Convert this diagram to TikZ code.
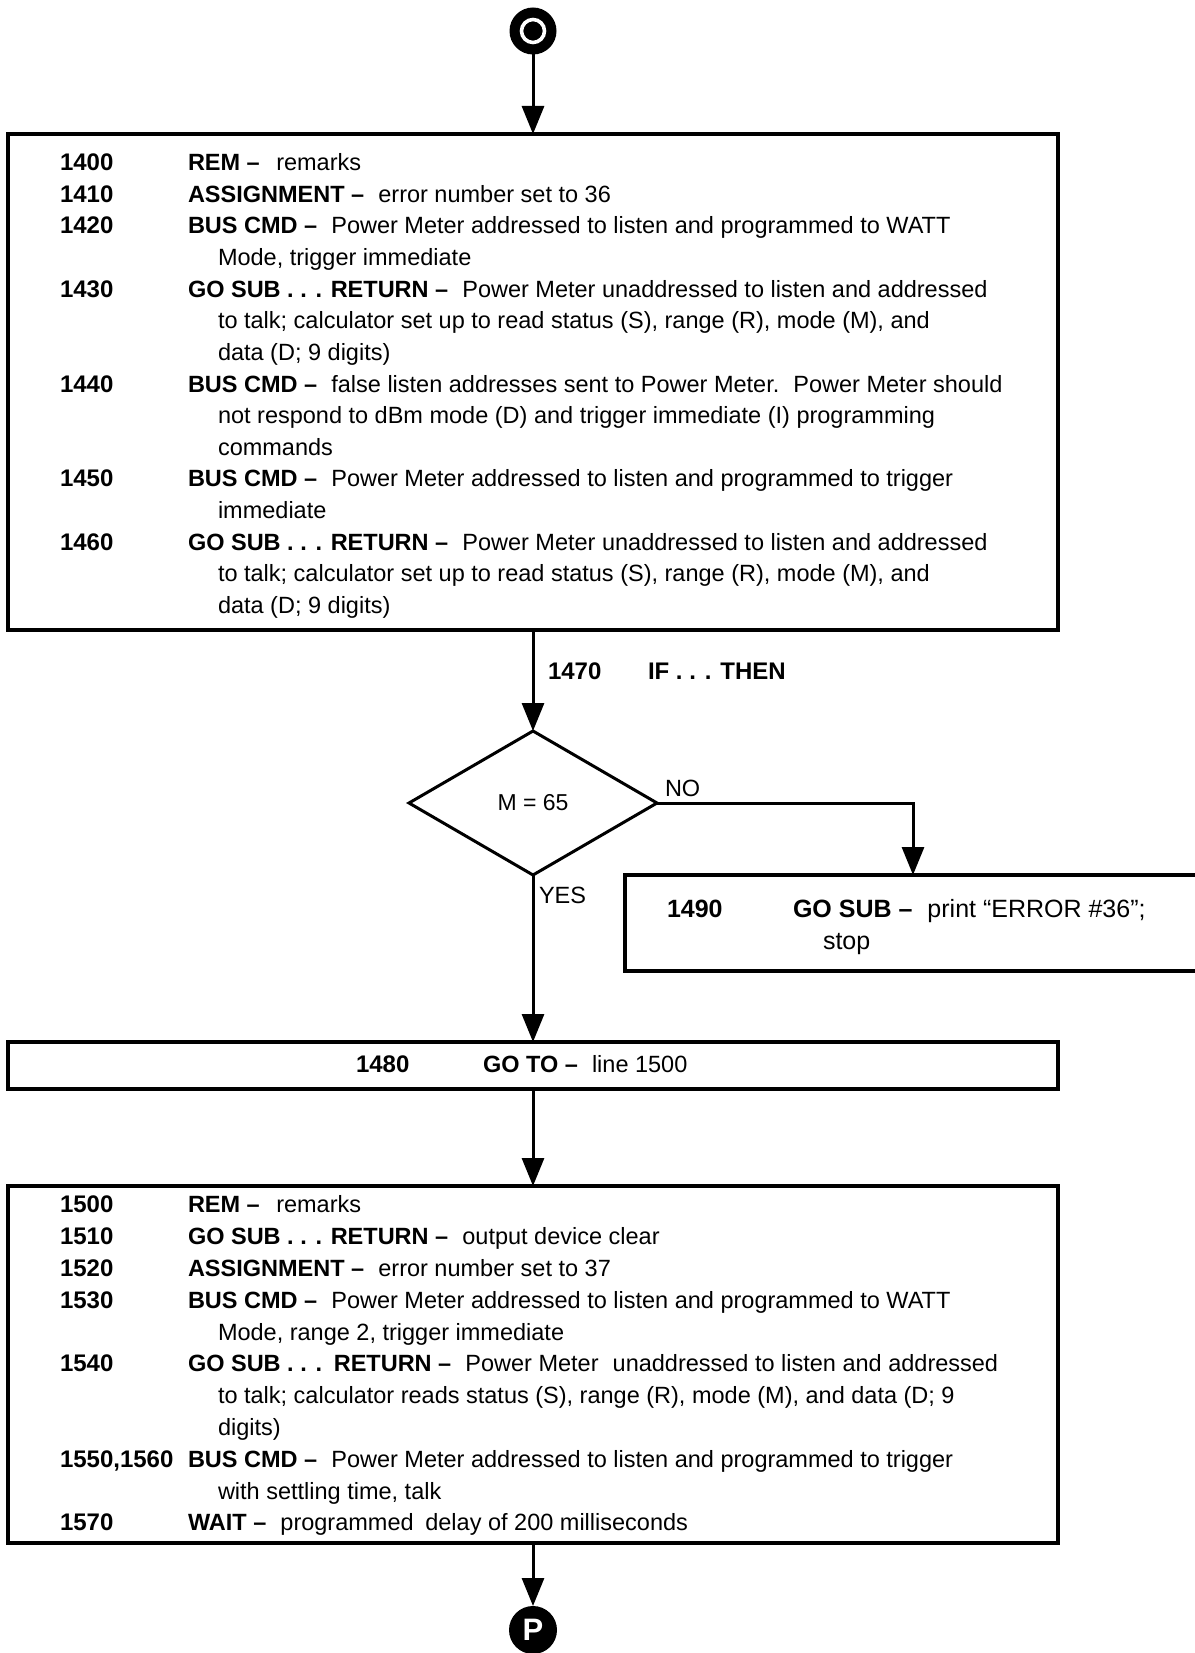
\documentclass[tikz,border=0pt]{standalone}
\usepackage{fontspec}
\setmainfont{Liberation Sans}
\usetikzlibrary{arrows.meta,shapes.geometric}
\begin{document}
\begin{tikzpicture}[x=1pt,y=-1pt,
  box/.style={draw, rectangle, line width=3.2pt, inner sep=0pt, outer sep=0pt},
  arr/.style={line width=3pt, -{Triangle[length=28pt,width=22pt]}},
  ln/.style={anchor=west, inner sep=0pt, outer sep=0pt, text height=16.8pt, text depth=0pt, font=\fontsize{23.5pt}{28pt}\selectfont},
  num/.style={ln, font=\fontsize{24pt}{28pt}\selectfont\bfseries},
  big/.style={ln, font=\fontsize{25pt}{30pt}\selectfont},
]
\useasboundingbox (0,0) rectangle (1194,1653);

% connector O
\node[circle, fill=black, minimum size=47pt, inner sep=0pt, outer sep=0pt] (O) at (533,31) {};
\draw[white, line width=3.6pt] (O.center) circle (11.5);

% top box
\node[box, minimum width=1050pt, minimum height=496pt] (b1) at (533,382) {};
\node[num] (n1400) at (60,162.5) {1400};
\node[ln]  (t1400) at (188,162.5) {\textbf{REM –}\hspace{0.7em}remarks};
\node[num] (n1410) at (60,194) {1410};
\node[ln]  (t1410) at (188,194) {\textbf{ASSIGNMENT –}\hspace{0.6em}error number set to 36};
\node[num] (n1420) at (60,225.6) {1420};
\node[ln]  (t1420) at (188,225.6) {\textbf{BUS CMD –}\hspace{0.6em}Power Meter addressed to listen and programmed to WATT};
\node[ln]  (c1420) at (218,257.2) {Mode, trigger immediate};
\node[num] (n1430) at (60,288.8) {1430};
\node[ln]  (t1430) at (188,288.8) {\textbf{GO SUB . . . RETURN –}\hspace{0.6em}Power Meter unaddressed to listen and addressed};
\node[ln]  (c1430a) at (218,320.4) {to talk; calculator set up to read status (S), range (R), mode (M), and};
\node[ln]  (c1430b) at (218,352) {data (D; 9 digits)};
\node[num] (n1440) at (60,383.6) {1440};
\node[ln]  (t1440) at (188,383.6) {\textbf{BUS CMD –}\hspace{0.6em}false listen addresses sent to Power Meter.\hspace{0.6em}Power Meter should};
\node[ln]  (c1440a) at (218,415.2) {not respond to dBm mode (D) and trigger immediate (I) programming};
\node[ln]  (c1440b) at (218,446.8) {commands};
\node[num] (n1450) at (60,478.4) {1450};
\node[ln]  (t1450) at (188,478.4) {\textbf{BUS CMD –}\hspace{0.6em}Power Meter addressed to listen and programmed to trigger};
\node[ln]  (c1450) at (218,510) {immediate};
\node[num] (n1460) at (60,541.6) {1460};
\node[ln]  (t1460) at (188,541.6) {\textbf{GO SUB . . . RETURN –}\hspace{0.6em}Power Meter unaddressed to listen and addressed};
\node[ln]  (c1460a) at (218,573.2) {to talk; calculator set up to read status (S), range (R), mode (M), and};
\node[ln]  (c1460b) at (218,604.8) {data (D; 9 digits)};

% decision
\node[num] (n1470) at (548,671) {1470};
\node[num] (t1470) at (648,671) {IF . . . THEN};
\node[draw, diamond, line width=3pt, inner sep=0pt, outer sep=0pt, aspect=1.72,
      minimum width=248pt, minimum height=144pt, font=\fontsize{23pt}{28pt}\selectfont] (dec) at (533,803) {M = 65};
\node[ln] (no) at (665,788) {NO};
\node[ln] (yes) at (539,895) {YES};

% error box
\node[box, minimum width=600pt, minimum height=96pt, anchor=north west] (err) at (625,875) {};
\node[num, font=\fontsize{25pt}{30pt}\selectfont\bfseries] (n1490) at (667,909) {1490};
\node[big] (t1490) at (793,909) {\textbf{GO SUB –}\hspace{0.6em}print “ERROR \#36”;};
\node[big] (c1490) at (823,941) {stop};

% goto box
\node[box, minimum width=1050pt, minimum height=47pt] (b2) at (533,1065.5) {};
\node[num] (n1480) at (356,1064) {1480};
\node[ln]  (t1480) at (483,1064) {\textbf{GO TO –}\hspace{0.6em}line 1500};

% bottom box
\node[box, minimum width=1050pt, minimum height=357pt] (b3) at (533,1364.5) {};
\node[num] (n1500) at (60,1204.5) {1500};
\node[ln]  (t1500) at (188,1204.5) {\textbf{REM –}\hspace{0.7em}remarks};
\node[num] (n1510) at (60,1236.3) {1510};
\node[ln]  (t1510) at (188,1236.3) {\textbf{GO SUB . . . RETURN –}\hspace{0.6em}output device clear};
\node[num] (n1520) at (60,1268.1) {1520};
\node[ln]  (t1520) at (188,1268.1) {\textbf{ASSIGNMENT –}\hspace{0.6em}error number set to 37};
\node[num] (n1530) at (60,1299.9) {1530};
\node[ln]  (t1530) at (188,1299.9) {\textbf{BUS CMD –}\hspace{0.6em}Power Meter addressed to listen and programmed to WATT};
\node[ln]  (c1530) at (218,1331.7) {Mode, range 2, trigger immediate};
\node[num] (n1540) at (60,1363.5) {1540};
\node[ln]  (t1540) at (188,1363.5) {\textbf{GO SUB . . .\hspace{0.5em}RETURN –}\hspace{0.6em}Power Meter\hspace{0.6em}unaddressed to listen and addressed};
\node[ln]  (c1540a) at (218,1395.3) {to talk; calculator reads status (S), range (R), mode (M), and data (D; 9};
\node[ln]  (c1540b) at (218,1427.1) {digits)};
\node[num] (n1550) at (60,1458.9) {1550,1560};
\node[ln]  (t1550) at (188,1458.9) {\textbf{BUS CMD –}\hspace{0.6em}Power Meter addressed to listen and programmed to trigger};
\node[ln]  (c1550) at (218,1490.7) {with settling time, talk};
\node[num] (n1570) at (60,1522.5) {1570};
\node[ln]  (t1570) at (188,1522.5) {\textbf{WAIT –}\hspace{0.6em}programmed\hspace{0.5em}delay of 200 milliseconds};

% connector P
\node[circle, fill=black, minimum size=48pt, inner sep=0pt, outer sep=0pt, text=white,
      font=\fontsize{31pt}{31pt}\selectfont\bfseries] (P) at (533,1630) {P};

% connectors
\draw[arr] (O) -- (b1.north);
\draw[arr] (b1.south) -- (dec.north);
\draw[arr] (dec.east) -| ([xshift=288pt]err.north west);
\draw[arr] (dec.south) -- (b2.north);
\draw[arr] (b2.south) -- (b3.north);
\draw[arr] (b3.south) -- (P);
\end{tikzpicture}
\end{document}
